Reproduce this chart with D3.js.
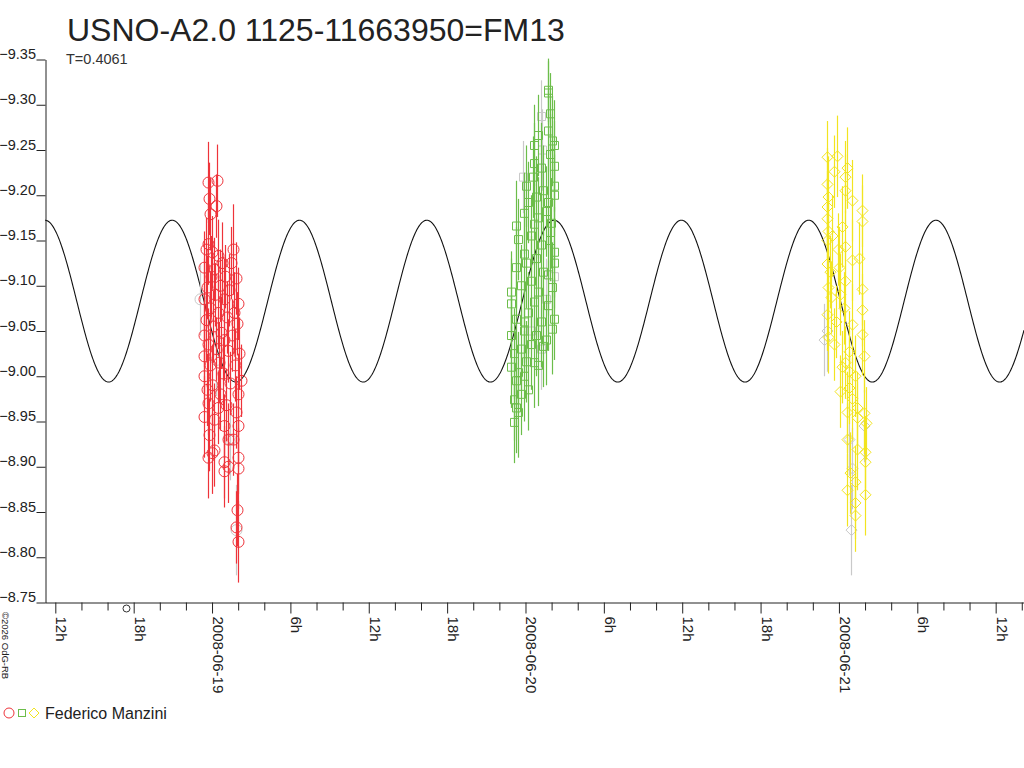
<!DOCTYPE html>
<html>
<head>
<meta charset="utf-8">
<script src="https://cdn.jsdelivr.net/npm/d3@7"></script>
<style>
body { margin: 0; background: #fff; }
svg { display: block; }
text { font-family: "Liberation Sans", Arial, sans-serif; fill: #222; }
</style>
</head>
<body>
<div id="plot"></div>
<script>
var title = "USNO-A2.0 1125-11663950=FM13";
var periodLabel = "T=0.4061";
var observer = "Federico Manzini";
var credit = "\u00a92026 OdG-RB";

// hours are counted from 2008-06-19 00:00 UT
var baseDate = Date.UTC(2008, 5, 19);
var xDomainHours = [-12.79, 62.17];
var yTicks = [-9.35, -9.30, -9.25, -9.20, -9.15, -9.10, -9.05, -9.00, -8.95, -8.90, -8.85, -8.80, -8.75];

// fitted light curve
var fitPeriodDays = 0.4061, fitMean = -9.083, fitAmp = 0.0894, fitPeakHour = 26.19;
var markHour = -6.55;

// [hours, mag, err]
var red = [
  [-0.31,-9.214,0.045],[0.38,-9.216,0.040],[-0.23,-9.196,0.040],[0.30,-9.188,0.035],[-0.15,-9.179,0.040],
  [-0.31,-9.146,0.045],[-0.46,-9.140,0.035],[0.0,-9.137,0.040],[0.46,-9.133,0.040],[1.61,-9.140,0.050],
  [-0.61,-9.120,0.040],[0.77,-9.125,0.045],[1.45,-9.125,0.040],[0.15,-9.118,0.035],[-0.08,-9.110,0.045],
  [1.0,-9.110,0.035],[1.84,-9.108,0.040],[0.61,-9.100,0.040],[-0.38,-9.098,0.035],[-0.61,-9.085,0.045],
  [0.23,-9.090,0.035],[1.30,-9.095,0.040],[2.0,-9.080,0.040],[0.92,-9.085,0.045],[-0.15,-9.075,0.040],
  [1.69,-9.070,0.045],[0.46,-9.070,0.040],[-0.46,-9.062,0.045],[1.15,-9.065,0.040],[1.92,-9.058,0.035],
  [0.08,-9.055,0.040],[-0.61,-9.045,0.035],[0.69,-9.048,0.040],[0.92,-9.040,0.045],[1.53,-9.045,0.040],
  [-0.31,-9.035,0.040],[0.31,-9.030,0.035],[2.07,-9.025,0.040],[-0.61,-9.022,0.040],[1.23,-9.028,0.035],
  [0.54,-9.015,0.045],[-0.15,-9.012,0.040],[1.76,-9.012,0.040],[-0.61,-9.000,0.035],[0.85,-9.003,0.040],
  [2.23,-8.995,0.040],[0.0,-8.990,0.045],[1.38,-8.992,0.035],[-0.38,-8.985,0.040],[0.62,-8.980,0.040],
  [2.0,-8.980,0.045],[-0.31,-8.970,0.035],[0.46,-8.965,0.040],[1.07,-8.968,0.040],[1.84,-8.960,0.040],
  [-0.61,-8.955,0.045],[0.15,-8.952,0.040],[1.99,-8.945,0.045],[0.92,-8.945,0.035],[-0.23,-8.935,0.040],
  [1.61,-8.930,0.040],[0.15,-8.918,0.040],[1.23,-8.930,0.040],[-0.31,-8.910,0.045],[0.92,-8.905,0.040],
  [1.99,-8.910,0.040],[1.23,-8.900,0.040],[1.99,-8.898,0.045],[0.92,-8.895,0.040],[0.0,-8.915,0.045],
  [1.92,-8.852,0.040],[1.84,-8.833,0.040],[2.0,-8.817,0.045]
];
var green = [
  [23.14,-8.949,0.045],[23.3,-8.965,0.05],[23.14,-8.974,0.045],[23.45,-8.960,0.05],[23.68,-8.980,0.045],
  [23.3,-8.995,0.05],[24.23,-8.985,0.045],[23.45,-9.004,0.045],[23.9,-9.000,0.05],[22.9,-9.010,0.045],
  [24.07,-9.016,0.045],[24.67,-9.015,0.05],[24.99,-9.012,0.045],[23.14,-9.025,0.05],[23.68,-9.030,0.045],
  [25.36,-9.033,0.045],[24.44,-9.035,0.05],[22.9,-9.045,0.045],[25.59,-9.040,0.05],[23.9,-9.050,0.045],
  [24.84,-9.045,0.045],[23.3,-9.063,0.05],[23.9,-9.060,0.045],[25.2,-9.060,0.05],[26.2,-9.063,0.045],
  [26.0,-9.052,0.05],[24.23,-9.070,0.045],[22.9,-9.080,0.05],[24.67,-9.082,0.045],[25.75,-9.078,0.05],
  [22.9,-9.093,0.045],[24.99,-9.093,0.05],[23.68,-9.100,0.045],[26.0,-9.098,0.05],[24.44,-9.105,0.05],
  [23.3,-9.120,0.045],[25.36,-9.115,0.05],[25.75,-9.112,0.045],[24.07,-9.125,0.05],[26.2,-9.125,0.05],
  [23.9,-9.135,0.045],[24.84,-9.130,0.045],[26.2,-9.137,0.05],[23.45,-9.151,0.045],[25.2,-9.145,0.05],
  [24.44,-9.155,0.045],[25.9,-9.150,0.045],[23.3,-9.166,0.05],[24.67,-9.168,0.045],[25.98,-9.169,0.05],
  [24.99,-9.175,0.045],[23.9,-9.180,0.045],[25.6,-9.182,0.05],[24.23,-9.192,0.045],[25.75,-9.192,0.05],
  [24.84,-9.198,0.045],[24.07,-9.210,0.045],[26.2,-9.210,0.045],[25.36,-9.205,0.05],[26.2,-9.200,0.045],
  [24.6,-9.220,0.045],[25.2,-9.230,0.05],[24.67,-9.235,0.045],[26.2,-9.232,0.05],[25.9,-9.245,0.045],
  [24.67,-9.255,0.045],[26.2,-9.255,0.05],[24.99,-9.266,0.045],[25.75,-9.271,0.045],[26.0,-9.260,0.05],
  [25.9,-9.290,0.045],[25.75,-9.316,0.035],[25.7,-9.313,0.035]
];
var yellow = [
  [47.05,-9.242,0.04],[47.82,-9.243,0.045],[47.66,-9.226,0.04],[48.58,-9.230,0.045],[47.05,-9.212,0.04],
  [48.43,-9.220,0.04],[47.2,-9.198,0.045],[48.43,-9.205,0.04],[48.97,-9.194,0.045],[47.05,-9.187,0.04],
  [49.73,-9.183,0.04],[47.05,-9.174,0.045],[49.73,-9.171,0.04],[47.2,-9.160,0.04],[48.2,-9.165,0.045],
  [47.05,-9.150,0.04],[48.43,-9.143,0.04],[47.5,-9.155,0.045],[47.9,-9.140,0.04],[48.97,-9.128,0.045],
  [47.05,-9.124,0.04],[47.28,-9.115,0.04],[48.0,-9.120,0.045],[49.5,-9.130,0.04],[47.2,-9.098,0.04],
  [49.73,-9.096,0.04],[48.43,-9.105,0.045],[47.43,-9.087,0.04],[48.1,-9.090,0.045],[47.05,-9.068,0.04],
  [49.73,-9.073,0.04],[48.97,-9.057,0.045],[48.4,-9.075,0.04],[47.8,-9.060,0.04],[49.73,-9.046,0.045],
  [47.2,-9.043,0.04],[47.66,-9.035,0.04],[48.74,-9.027,0.045],[49.89,-9.022,0.04],[48.2,-9.010,0.04],
  [48.74,-9.005,0.045],[48.5,-9.015,0.04],[49.2,-9.000,0.045],[48.05,-8.983,0.04],[48.74,-8.987,0.04],
  [49.0,-8.975,0.045],[49.35,-8.965,0.04],[48.6,-8.960,0.045],[49.35,-8.954,0.04],[49.89,-8.959,0.045],
  [50.1,-8.948,0.04],[48.58,-8.930,0.04],[49.35,-8.919,0.045],[49.97,-8.916,0.04],[49.97,-8.905,0.04],
  [48.82,-8.893,0.045],[49.2,-8.883,0.04],[48.58,-8.874,0.04],[49.97,-8.869,0.045],[49.2,-8.860,0.04],
  [49.2,-8.846,0.04]
];
// comparison measures shown in grey
var greyCircles = [[-0.9,-9.085,0.04],[1.4,-8.930,0.045],[1.85,-8.830,0.05],[0.3,-9.018,0.04]];
var greySquares = [[25.2,-9.287,0.04],[25.3,-9.250,0.045],[26.2,-9.110,0.04],[25.6,-9.085,0.045],
                   [24.4,-9.050,0.04],[25.2,-9.030,0.045],[23.8,-9.220,0.04]];
var greyDiamonds = [[46.85,-9.040,0.04],[47.1,-9.050,0.045],[48.75,-8.930,0.04],[49.0,-8.898,0.045],
                    [48.9,-8.830,0.05],[49.9,-8.945,0.04]];

var W = 1024, H = 768;
var svg = d3.select("#plot").append("svg")
    .attr("width", W).attr("height", H)
    .attr("viewBox", "0 0 " + W + " " + H);

function hourDate(h) { return new Date(baseDate + h * 3600e3); }

var x = d3.scaleUtc()
    .domain(xDomainHours.map(hourDate))
    .range([45, 1024]);
var y = d3.scaleLinear()
    .domain([-9.35, -8.75])
    .range([59.5, 602.5]);

// title block
svg.append("text").attr("x", 67).attr("y", 41)
    .style("font-size", "32px").style("fill", "#222").text(title);
svg.append("text").attr("x", 66).attr("y", 64)
    .style("font-size", "14.5px").style("fill", "#333").text(periodLabel);

// fitted sine
var fitHours = d3.range(xDomainHours[0], xDomainHours[1], 0.05).concat([xDomainHours[1]]);
var pHours = fitPeriodDays * 24;
var fitLine = d3.line()
    .x(function(h) { return x(hourDate(h)); })
    .y(function(h) { return y(fitMean - fitAmp * Math.cos(2 * Math.PI * (h - fitPeakHour) / pHours)); });
svg.append("path").datum(fitHours)
    .attr("d", fitLine).attr("fill", "none")
    .attr("stroke", "#111").attr("stroke-width", 1.1);

// points with error bars
function drawSeries(data, colour, shape) {
    var g = svg.append("g");
    g.selectAll("line").data(data).join("line")
        .attr("x1", function(d) { return Math.round(x(hourDate(d[0]))) + 0.5; })
        .attr("x2", function(d) { return Math.round(x(hourDate(d[0]))) + 0.5; })
        .attr("y1", function(d) { return y(d[1] - d[2]); })
        .attr("y2", function(d) { return y(d[1] + d[2]); })
        .attr("stroke", colour).attr("stroke-width", 1.2);
    var sym = g.selectAll("path").data(data).join("path")
        .attr("transform", function(d) {
            return "translate(" + (Math.round(x(hourDate(d[0]))) + 0.5) + "," + y(d[1]) + ")";
        })
        .attr("fill", "none").attr("stroke", colour).attr("stroke-width", 1);
    if (shape === "circle") sym.attr("d", d3.symbol(d3.symbolCircle, 95)());
    if (shape === "square") sym.attr("d", "M-4,-4H4V4H-4Z");
    if (shape === "diamond") sym.attr("d", "M0,-5.5L5.5,0L0,5.5L-5.5,0Z");
}
var greyCol = "#c9c9c9";
drawSeries(greyCircles, greyCol, "circle");
drawSeries(greySquares, greyCol, "square");
drawSeries(greyDiamonds, greyCol, "diamond");
drawSeries(red, "#ee333a", "circle");
drawSeries(green, "#6cbd4a", "square");
drawSeries(yellow, "#f2e420", "diamond");

// Y axis
var gy = svg.append("g").attr("transform", "translate(45.5,0)")
    .call(d3.axisLeft(y).tickValues(yTicks).tickSize(9).tickSizeOuter(0)
        .tickFormat(d3.format(".2f")));
gy.select(".domain").attr("stroke", "#222");
gy.selectAll(".tick line").attr("stroke", "#222");
gy.selectAll(".tick text")
    .attr("x", -9.5).attr("dy", "-1")
    .style("font-size", "14.5px").style("font-family", "'Liberation Sans', Arial, sans-serif")
    .style("fill", "#222");

// X axis
var tickFmt = function(d) {
    var h = d.getUTCHours();
    if (h === 0) return d3.utcFormat("%Y-%m-%d")(d);
    if (h % 6 === 0) return h + "h";
    return "";
};
var gx = svg.append("g").attr("transform", "translate(0,602.5)")
    .call(d3.axisBottom(x).ticks(d3.utcHour.every(2)).tickSize(8).tickSizeOuter(0).tickFormat(tickFmt));
gx.select(".domain").attr("stroke", "#222");
gx.selectAll(".tick line").attr("stroke", "#222")
    .attr("y2", function(d) { return d.getUTCHours() % 6 === 0 ? 11 : 8; });
gx.selectAll(".tick text")
    .attr("transform", "rotate(90)")
    .attr("x", 14).attr("y", -0.5).attr("dy", 0)
    .attr("text-anchor", "start")
    .style("font-size", "15px").style("font-family", "'Liberation Sans', Arial, sans-serif")
    .style("fill", "#222");

// small marker under the axis
svg.append("circle")
    .attr("cx", x(hourDate(markHour))).attr("cy", 608.5).attr("r", 3.5)
    .attr("fill", "none").attr("stroke", "#333").attr("stroke-width", 1);

// credit
svg.append("text").attr("transform", "translate(1.5,612) rotate(90)")
    .style("font-size", "9.5px").style("fill", "#222").text(credit);

// legend
var lg = svg.append("g").attr("transform", "translate(0,713)");
lg.append("circle").attr("cx", 9).attr("cy", 0).attr("r", 5)
    .attr("fill", "none").attr("stroke", "#ee333a");
lg.append("rect").attr("x", 18.5).attr("y", -3.5).attr("width", 7).attr("height", 7)
    .attr("fill", "none").attr("stroke", "#6cbd4a");
lg.append("path").attr("d", "M34,-5L39,0L34,5L29,0Z")
    .attr("fill", "none").attr("stroke", "#f2e420");
lg.append("text").attr("x", 45).attr("y", 5.5)
    .style("font-size", "16px").style("fill", "#222").text(observer);
</script>
</body>
</html>
